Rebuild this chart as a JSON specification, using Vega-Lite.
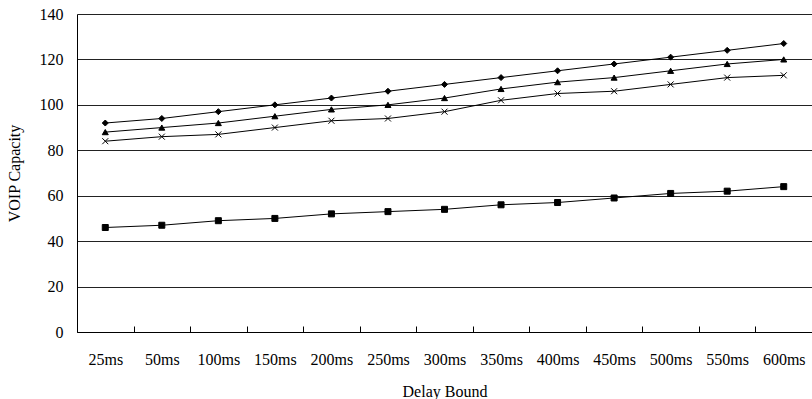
{
  "$schema": "https://vega.github.io/schema/vega-lite/v6.json",
  "width": 735,
  "height": 318,
  "autosize": "none",
  "padding": {"left": 77, "top": 14, "right": 0, "bottom": 67},
  "background": "white",
  "config": {
    "view": {"stroke": null},
    "font": "Liberation Serif",
    "axis": {"labelFont": "Liberation Serif", "titleFont": "Liberation Serif", "labelFontSize": 16, "titleFontSize": 16, "titleFontWeight": "normal", "labelColor": "#000", "titleColor": "#000", "domainColor": "#000"}
  },
  "data": {"values": [
    {"delay": "25ms", "series": "A", "cap": 92}, {"delay": "50ms", "series": "A", "cap": 94}, {"delay": "100ms", "series": "A", "cap": 97}, {"delay": "150ms", "series": "A", "cap": 100}, {"delay": "200ms", "series": "A", "cap": 103}, {"delay": "250ms", "series": "A", "cap": 106}, {"delay": "300ms", "series": "A", "cap": 109}, {"delay": "350ms", "series": "A", "cap": 112}, {"delay": "400ms", "series": "A", "cap": 115}, {"delay": "450ms", "series": "A", "cap": 118}, {"delay": "500ms", "series": "A", "cap": 121}, {"delay": "550ms", "series": "A", "cap": 124}, {"delay": "600ms", "series": "A", "cap": 127},
    {"delay": "25ms", "series": "B", "cap": 88}, {"delay": "50ms", "series": "B", "cap": 90}, {"delay": "100ms", "series": "B", "cap": 92}, {"delay": "150ms", "series": "B", "cap": 95}, {"delay": "200ms", "series": "B", "cap": 98}, {"delay": "250ms", "series": "B", "cap": 100}, {"delay": "300ms", "series": "B", "cap": 103}, {"delay": "350ms", "series": "B", "cap": 107}, {"delay": "400ms", "series": "B", "cap": 110}, {"delay": "450ms", "series": "B", "cap": 112}, {"delay": "500ms", "series": "B", "cap": 115}, {"delay": "550ms", "series": "B", "cap": 118}, {"delay": "600ms", "series": "B", "cap": 120},
    {"delay": "25ms", "series": "C", "cap": 84}, {"delay": "50ms", "series": "C", "cap": 86}, {"delay": "100ms", "series": "C", "cap": 87}, {"delay": "150ms", "series": "C", "cap": 90}, {"delay": "200ms", "series": "C", "cap": 93}, {"delay": "250ms", "series": "C", "cap": 94}, {"delay": "300ms", "series": "C", "cap": 97}, {"delay": "350ms", "series": "C", "cap": 102}, {"delay": "400ms", "series": "C", "cap": 105}, {"delay": "450ms", "series": "C", "cap": 106}, {"delay": "500ms", "series": "C", "cap": 109}, {"delay": "550ms", "series": "C", "cap": 112}, {"delay": "600ms", "series": "C", "cap": 113},
    {"delay": "25ms", "series": "D", "cap": 46}, {"delay": "50ms", "series": "D", "cap": 47}, {"delay": "100ms", "series": "D", "cap": 49}, {"delay": "150ms", "series": "D", "cap": 50}, {"delay": "200ms", "series": "D", "cap": 52}, {"delay": "250ms", "series": "D", "cap": 53}, {"delay": "300ms", "series": "D", "cap": 54}, {"delay": "350ms", "series": "D", "cap": 56}, {"delay": "400ms", "series": "D", "cap": 57}, {"delay": "450ms", "series": "D", "cap": 59}, {"delay": "500ms", "series": "D", "cap": 61}, {"delay": "550ms", "series": "D", "cap": 62}, {"delay": "600ms", "series": "D", "cap": 64}
  ]},
  "encoding": {
    "x": {"field": "delay", "type": "ordinal", "sort": null,
      "scale": {"paddingInner": 0, "paddingOuter": 0},
      "axis": {"title": "Delay Bound", "labelAngle": 0, "tickBand": "extent", "tickSize": -6, "tickColor": "#000", "tickWidth": 1, "labelPadding": 25, "titlePadding": 16, "grid": false}},
    "y": {"field": "cap", "type": "quantitative",
      "scale": {"domain": [0, 140], "nice": false},
      "axis": {"title": "VOIP Capacity", "values": [0, 20, 40, 60, 80, 100, 120, 140], "ticks": false, "labelPadding": 14, "titlePadding": 17, "grid": true, "gridColor": "#222", "gridWidth": 1}}
  },
  "layer": [
    {"mark": {"type": "line", "color": "#000", "strokeWidth": 1}, "encoding": {"detail": {"field": "series"}}},
    {"mark": {"type": "point", "filled": true, "fill": "#000", "stroke": "#000", "strokeWidth": 1, "opacity": 1, "size": 36},
      "encoding": {"shape": {"field": "series", "type": "nominal", "legend": null,
        "scale": {"domain": ["A", "B", "C", "D"], "range": ["diamond", "triangle-up", "M-1,-1L1,1M-1,1L1,-1", "square"]}}}}
  ]
}
